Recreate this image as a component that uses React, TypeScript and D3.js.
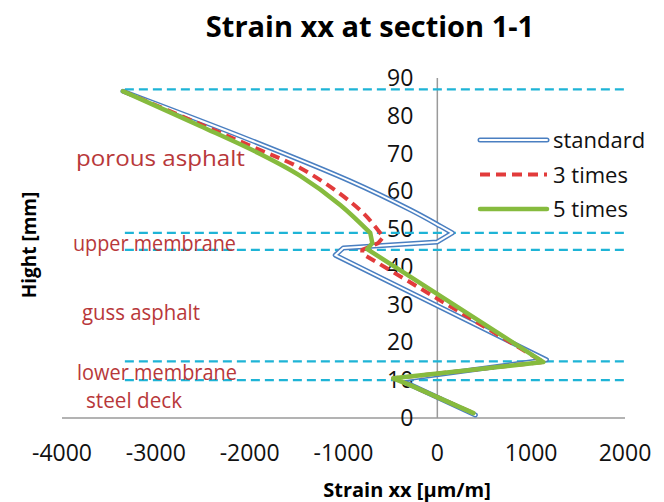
import React from "react";
import * as d3 from "d3";

const xTicks = [-4000, -3000, -2000, -1000, 0, 1000, 2000];
const yTicks = [0, 10, 20, 30, 40, 50, 60, 70, 80, 90];

// standard: smooth upper branch, then the membrane / guss / steel-deck kinks
const standardStrain = [-3350, -1995, -928, -288, 32, 160, 0, -1003, -1088, 1163, -400, -330, 405];
const standardHeight = [86.5, 73.6, 62.7, 55.1, 50.8, 49, 46.6, 45, 43.1, 15.4, 10.1, 9.3, 0.8];
const standardSmoothEnd = 5;

const times3Strain = [-3350, -2528, -1888, -1461, -1035, -768, -576, -630, -800, -800, 1130, -470, -290, 385];
const times3Height = [86.5, 77.8, 70.9, 66.2, 59.3, 53.7, 47.9, 46.3, 44.5, 43.5, 14.8, 10.5, 8.7, 1.3];
const times3SmoothEnd = 6;

const times5Strain = [-3350, -2528, -1888, -1461, -1035, -715, -693, -747, 1130, -470, -290, 385];
const times5Height = [86.5, 77.3, 69.9, 64.1, 56.4, 49, 46.3, 44.7, 14.8, 10.5, 8.7, 1.3];
const times5SmoothEnd = 5;

const boundaryHeights = [87, 49, 44.5, 15, 10];
const boundaryStart = -3330;
const boundaryEnd = 2000;

const layerNames = ["porous asphalt", "upper membrane", "guss asphalt", "lower membrane", "steel deck"];
const layerStrain = [-3851, -3883, -3787, -3840, -3744];
const layerHeight = [68.8, 46.3, 28, 12.2, 4.8];
const layerWidthPx = [169, 163, 118, 160, 96];

const legendNames = ["standard", "3 times", "5 times"];

const FONT = "'Open Sans', 'DejaVu Sans', sans-serif";

export default function App() {
  const W = 664, H = 502;
  const x = d3.scaleLinear().domain([-4000, 2000]).range([62, 625]);
  const y = d3.scaleLinear().domain([0, 90]).range([418, 78]);

  const mk = (xs: number[], ys: number[], smoothEnd: number) => {
    const pts: [number, number][] = xs.map((v, i) => [x(v), y(ys[i])]);
    const smooth = d3.line().curve(d3.curveCatmullRom.alpha(0.5))(pts.slice(0, smoothEnd + 1)) as string;
    const rest = d3.line()(pts.slice(smoothEnd)) as string;
    return smooth + rest.replace(/^M[^L]*/, "");
  };

  const stdPath = mk(standardStrain, standardHeight, standardSmoothEnd);
  const t3Path = mk(times3Strain, times3Height, times3SmoothEnd);
  const t5Path = mk(times5Strain, times5Height, times5SmoothEnd);

  const blue = "#4a7fc1";
  const red = "#e23b3b";
  const green = "#86bb3e";
  const cyan = "#1eb4d6";
  const axisCol = "#9a9a9a";
  const labelRed = "#b8383a";

  const legX0 = 480, legX1 = 547, legY = 140, legGap = 34.5;

  return (
    <svg width={W} height={H} style={{ position: "absolute", left: 0, top: 0, background: "#fff" }} fontFamily={FONT}>
      <rect width={W} height={H} fill="#fff" />
      <text x={370} y={37} textAnchor="middle" fontSize={29} fontWeight="bold" fill="#000">
        Strain xx at section 1-1
      </text>

      <line x1={x(-4000)} x2={x(2000)} y1={y(0)} y2={y(0)} stroke={axisCol} strokeWidth={1.5} />
      <line x1={x(0)} x2={x(0)} y1={y(0)} y2={y(90)} stroke={axisCol} strokeWidth={1.5} />

      {xTicks.map((t) => (
        <text key={"xt" + t} x={x(t)} y={461} textAnchor="middle" fontSize={23} fill="#111">
          {t}
        </text>
      ))}
      {yTicks.map((t) => (
        <text key={"yt" + t} x={x(0) - 24} y={y(t) + 8} textAnchor="end" fontSize={23} fill="#111">
          {t}
        </text>
      ))}

      {boundaryHeights.map((h) => (
        <line
          key={"b" + h}
          x1={x(boundaryStart)}
          x2={x(boundaryEnd)}
          y1={y(h)}
          y2={y(h)}
          stroke={cyan}
          strokeWidth={2.2}
          strokeDasharray="9 5"
        />
      ))}

      <path d={stdPath} fill="none" stroke={blue} strokeWidth={5} strokeLinejoin="round" strokeLinecap="round" />
      <path d={stdPath} fill="none" stroke="#fff" strokeWidth={2} strokeLinejoin="round" strokeLinecap="round" />
      <path d={t3Path} fill="none" stroke={red} strokeWidth={4} strokeDasharray="10 6" strokeLinejoin="round" />
      <path d={t5Path} fill="none" stroke={green} strokeWidth={4.5} strokeLinejoin="round" strokeLinecap="round" />

      {layerNames.map((n, i) => (
        <text
          key={n}
          x={x(layerStrain[i])}
          y={y(layerHeight[i]) + 8}
          fontSize={22}
          fill={labelRed}
          textLength={layerWidthPx[i]}
          lengthAdjust="spacingAndGlyphs"
        >
          {n}
        </text>
      ))}

      <line x1={legX0} x2={legX1} y1={legY} y2={legY} stroke={blue} strokeWidth={5} strokeLinecap="round" />
      <line x1={legX0} x2={legX1} y1={legY} y2={legY} stroke="#fff" strokeWidth={2} strokeLinecap="round" />
      <line x1={legX0} x2={legX1} y1={legY + legGap} y2={legY + legGap} stroke={red} strokeWidth={4} strokeDasharray="10 6" />
      <line x1={legX0} x2={legX1} y1={legY + 2 * legGap} y2={legY + 2 * legGap} stroke={green} strokeWidth={4.5} strokeLinecap="round" />
      {legendNames.map((n, i) => (
        <text key={n} x={553} y={legY + i * legGap + 8} fontSize={22} fill="#111">
          {n}
        </text>
      ))}

      <text x={407} y={497} textAnchor="middle" fontSize={20} fontWeight="bold" fill="#000">
        Strain xx [µm/m]
      </text>
      <text transform={`translate(36,245) rotate(-90)`} textAnchor="middle" fontSize={19} fontWeight="bold" fill="#000">
        Hight [mm]
      </text>
    </svg>
  );
}
